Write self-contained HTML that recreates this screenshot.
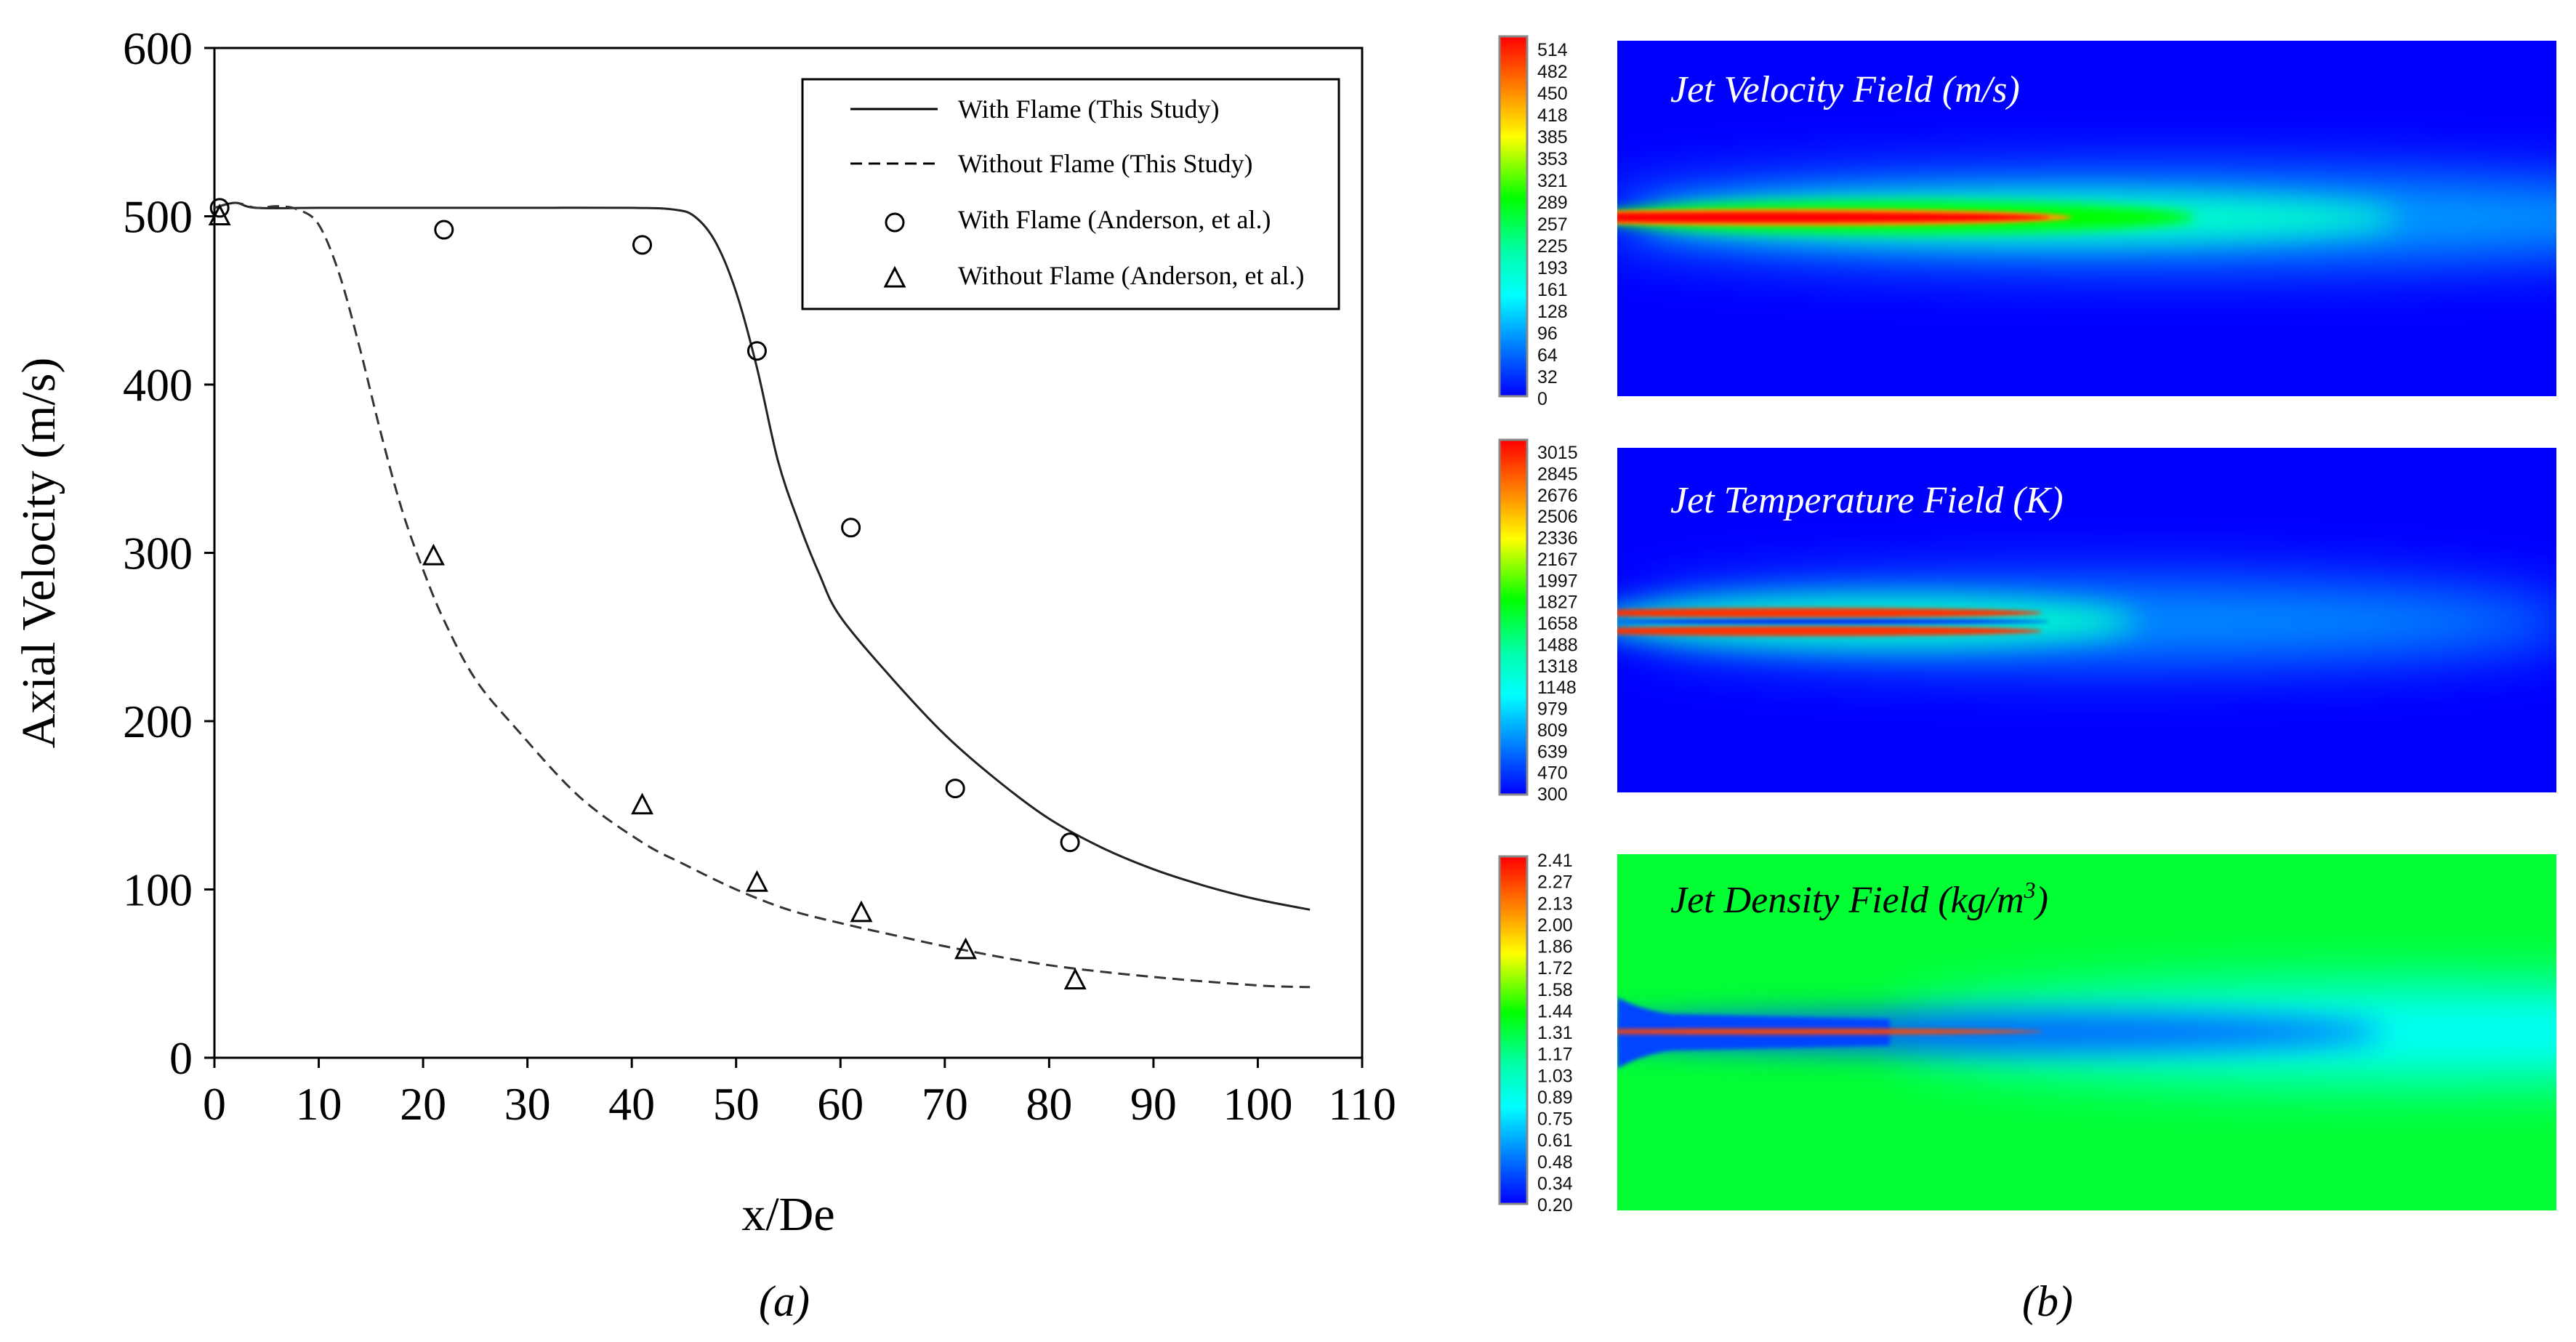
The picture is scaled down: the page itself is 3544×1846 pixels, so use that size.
<!DOCTYPE html>
<html><head><meta charset="utf-8"><style>
html,body{margin:0;padding:0;background:#fff;}
svg{display:block;}
</style></head><body>
<svg id="root" width="3544" height="1846" viewBox="0 0 3544 1846" xmlns="http://www.w3.org/2000/svg" font-family="'Liberation Serif', serif">
<defs>
<linearGradient id="rainbow" x1="0" y1="0" x2="0" y2="1">
<stop offset="0" stop-color="#ff0000"/><stop offset="0.17" stop-color="#ff9900"/><stop offset="0.28" stop-color="#ffff00"/>
<stop offset="0.45" stop-color="#00ff00"/><stop offset="0.6" stop-color="#00ffaa"/><stop offset="0.72" stop-color="#00ffff"/>
<stop offset="0.85" stop-color="#0088ff"/><stop offset="1" stop-color="#0000ff"/></linearGradient>
<filter id="blur8" x="-0.5" y="-3" width="2" height="7"><feGaussianBlur stdDeviation="8"/></filter>
<filter id="blur20" x="-0.5" y="-3" width="2" height="7"><feGaussianBlur stdDeviation="20"/></filter>
<filter id="blur40" x="-0.5" y="-3" width="2" height="7"><feGaussianBlur stdDeviation="40"/></filter>
<filter id="blur3" x="-0.5" y="-3" width="2" height="7"><feGaussianBlur stdDeviation="3"/></filter>
<clipPath id="c1"><rect x="2225" y="56" width="1292" height="489"/></clipPath>
<clipPath id="c2"><rect x="2225" y="616" width="1292" height="474"/></clipPath>
<clipPath id="c3"><rect x="2225" y="1175" width="1292" height="490"/></clipPath>
</defs>
<g id="chart"></g>

<g>
<rect x="2063" y="50" width="38" height="495" fill="url(#rainbow)" stroke="#888" stroke-width="3"/>
<rect x="2225" y="56" width="1292" height="489" fill="#0000ff"/>
<g clip-path="url(#c1)">
<ellipse cx="3000" cy="300" rx="800" ry="60" fill="#00aaff" filter="url(#blur40)"/>
<ellipse cx="2780" cy="300" rx="520" ry="34" fill="#00ffcc" filter="url(#blur20)"/>
<ellipse cx="2600" cy="299" rx="420" ry="22" fill="#00ff00" filter="url(#blur8)"/>
<ellipse cx="2470" cy="299" rx="380" ry="12" fill="#ff9900" filter="url(#blur3)"/>
<ellipse cx="2420" cy="299" rx="400" ry="7" fill="#ff0000" filter="url(#blur3)"/>
</g>
<text x="2298" y="140" font-size="52" font-style="italic" fill="#fff">Jet Velocity Field (m/s)</text>
</g>
<g>
<rect x="2063" y="605" width="38" height="488" fill="url(#rainbow)" stroke="#888" stroke-width="3"/>
<rect x="2225" y="616" width="1292" height="474" fill="#0000ff"/>
<g clip-path="url(#c2)">
<ellipse cx="2900" cy="855" rx="650" ry="55" fill="#0099ff" filter="url(#blur40)"/>
<ellipse cx="2560" cy="855" rx="380" ry="34" fill="#00ffcc" filter="url(#blur20)"/>
<ellipse cx="2480" cy="843" rx="330" ry="7" fill="#ff3300" filter="url(#blur3)"/>
<ellipse cx="2480" cy="868" rx="330" ry="7" fill="#ff3300" filter="url(#blur3)"/>
<ellipse cx="2520" cy="855" rx="300" ry="3" fill="#0000ff" filter="url(#blur3)"/>
</g>
<text x="2298" y="705" font-size="52" font-style="italic" fill="#fff">Jet Temperature Field (K)</text>
</g>
<g>
<rect x="2063" y="1178" width="38" height="478" fill="url(#rainbow)" stroke="#888" stroke-width="3"/>
<rect x="2225" y="1175" width="1292" height="490" fill="#00ff33"/>
<g clip-path="url(#c3)">
<ellipse cx="3350" cy="1420" rx="750" ry="65" fill="#00ffff" filter="url(#blur40)"/>
<ellipse cx="2720" cy="1420" rx="560" ry="28" fill="#0066ff" filter="url(#blur20)"/>
<path d="M2225 1372 Q2260 1390 2300 1395 L2600 1402 L2600 1438 L2300 1445 Q2260 1450 2225 1470 Z" fill="#0044ff" filter="url(#blur3)"/>
<ellipse cx="2450" cy="1419" rx="360" ry="4" fill="#ff4400" filter="url(#blur3)"/>
</g>
<text x="2298" y="1255" font-size="52" font-style="italic" fill="#000">Jet Density Field (kg/m<tspan font-size="32" dy="-20">3</tspan><tspan dy="20">)</tspan></text>
</g>
<g id="cbLabels" font-family="'Liberation Sans', sans-serif" font-size="25" fill="#111"></g>
<text x="2817" y="1810" font-size="60" font-style="italic" text-anchor="middle">(b)</text>
</svg>
<script>
const withFlameX=[0,2,4,10,20,30,40,44,46,48,50,52,54,56,58,60,65,70,75,80,85,90,95,100,105];
const withFlameY=[505,508,505,505,505,505,505,504,500,485,455,410,355,318,287,262,225,192,165,142,125,112,102,94,88];
const noFlameX=[0,2,4,6,8,10,12,14,16,18,20,22,25,29,35,41,45,50,55,60,65,71,80,90,100,105];
const noFlameY=[505,508,505,506,504,495,465,420,370,325,290,260,225,195,155,128,115,100,88,80,73,65,55,48,43,42];
const expFlameX=[0.5,22,41,52,61,71,82];
const expFlameY=[505,492,483,420,315,160,128];
const expNoFlameX=[0.5,21,41,52,62,72,82.5];
const expNoFlameY=[500,298,150,104,86,64,46];
const xTicks=[0,10,20,30,40,50,60,70,80,90,100,110];
const yTicks=[0,100,200,300,400,500,600];
const velLabels=["514","482","450","418","385","353","321","289","257","225","193","161","128","96","64","32","0"];
const tempLabels=["3015","2845","2676","2506","2336","2167","1997","1827","1658","1488","1318","1148","979","809","639","470","300"];
const densLabels=["2.41","2.27","2.13","2.00","1.86","1.72","1.58","1.44","1.31","1.17","1.03","0.89","0.75","0.61","0.48","0.34","0.20"];

const NS="http://www.w3.org/2000/svg";
const X0=295,X1=1874,Y0=1455,Y1=66;
const sx=v=>X0+(v-0)/(110-0)*(X1-X0);
const sy=v=>Y0-(v-0)/(600-0)*(Y0-Y1);
const g=document.getElementById('chart');
function mk(t,a,p){const e=document.createElementNS(NS,t);for(const k in a)e.setAttribute(k,a[k]);(p||g).appendChild(e);return e;}
let e=mk('rect',{x:X0,y:Y1,width:X1-X0,height:Y0-Y1,fill:'none',stroke:'#000','stroke-width':3});


xTicks.forEach(t=>{
 let l=mk('line',{x1:sx(t),x2:sx(t),y1:Y0,y2:Y0+14,stroke:'#000','stroke-width':3});
 
 
 let tx=mk('text',{x:sx(t),y:Y0+85,'font-size':64,'text-anchor':'middle'});tx.textContent=t;
 
 
});
yTicks.forEach(t=>{
 let l=mk('line',{x1:X0-14,x2:X0,y1:sy(t),y2:sy(t),stroke:'#000','stroke-width':3});
 
 
 let tx=mk('text',{x:X0-30,y:sy(t)+22,'font-size':64,'text-anchor':'end'});tx.textContent=t;
 
 
});
let yt=mk('text',{x:0,y:0,'font-size':66,'text-anchor':'middle',transform:`translate(75 ${(Y0+Y1)/2}) rotate(-90)`});yt.textContent='Axial Velocity (m/s)';


let xt=mk('text',{x:(X0+X1)/2,y:1692,'font-size':66,'text-anchor':'middle'});xt.textContent='x/De';


let al=mk('text',{x:1079,y:1810,'font-size':60,'font-style':'italic','text-anchor':'middle'});al.textContent='(a)';


function pathOf(xs,ys){
 const P=xs.map((x,i)=>[sx(x),sy(ys[i])]);
 let d='M'+P[0][0].toFixed(1)+' '+P[0][1].toFixed(1);
 for(let i=0;i<P.length-1;i++){
  const p0=P[Math.max(0,i-1)],p1=P[i],p2=P[i+1],p3=P[Math.min(P.length-1,i+2)];
  const c1=[p1[0]+(p2[0]-p0[0])/6,p1[1]+(p2[1]-p0[1])/6],c2=[p2[0]-(p3[0]-p1[0])/6,p2[1]-(p3[1]-p1[1])/6];
  d+=` C${c1[0].toFixed(1)} ${c1[1].toFixed(1)} ${c2[0].toFixed(1)} ${c2[1].toFixed(1)} ${p2[0].toFixed(1)} ${p2[1].toFixed(1)}`;
 }
 return d;}
let p1=mk('path',{d:pathOf(withFlameX,withFlameY),fill:'none',stroke:'#222','stroke-width':3,'stroke-linejoin':'round'});


let p2=mk('path',{d:pathOf(noFlameX,noFlameY),fill:'none',stroke:'#333','stroke-width':3,'stroke-dasharray':'16 9'});


function circle(cx,cy){return mk('circle',{cx,cy,r:12,fill:'none',stroke:'#000','stroke-width':3});}
function tri(cx,cy){return mk('path',{d:`M${cx} ${cy-14} L${cx+13} ${cy+11} L${cx-13} ${cy+11} Z`,fill:'none',stroke:'#000','stroke-width':3});}
expFlameX.forEach((x,i)=>{const c=circle(sx(x),sy(expFlameY[i]));
 
 });
expNoFlameX.forEach((x,i)=>{const c=tri(sx(x),sy(expNoFlameY[i]));
 
 });
const lg=mk('g',{});


mk('rect',{x:1104,y:109,width:738,height:316,fill:'#fff',stroke:'#000','stroke-width':3},lg);
const rows=[['With Flame (This Study)','solid',150],['Without Flame (This Study)','dash',225],['With Flame (Anderson, et al.)','circ',302],['Without Flame (Anderson, et al.)','tri',379]];
rows.forEach(r=>{
 const y=r[2];
 let m;
 if(r[1]==='solid')m=mk('line',{x1:1170,x2:1290,y1:y,y2:y,stroke:'#000','stroke-width':3},lg);
 else if(r[1]==='dash')m=mk('line',{x1:1170,x2:1290,y1:y,y2:y,stroke:'#000','stroke-width':3,'stroke-dasharray':'16 9'},lg);
 else if(r[1]==='circ'){m=circle(1231,y+4);lg.appendChild(m);}
 else {m=tri(1231,y+4);lg.appendChild(m);}
 
 
 const t=mk('text',{x:1318,y:y+12,'font-size':36},lg);t.textContent=r[0];
 
 
});
const cb=document.getElementById('cbLabels');
function cbl(labels,top,bot){labels.forEach((s,i)=>{const y=top+i*(bot-top)/(labels.length-1);
 const t=mk('text',{x:2115,y:y+9},cb);t.textContent=s;
 
 });}
cbl(velLabels,68,548);
cbl(tempLabels,622,1092);
cbl(densLabels,1183,1657);
</script>
</body></html>
